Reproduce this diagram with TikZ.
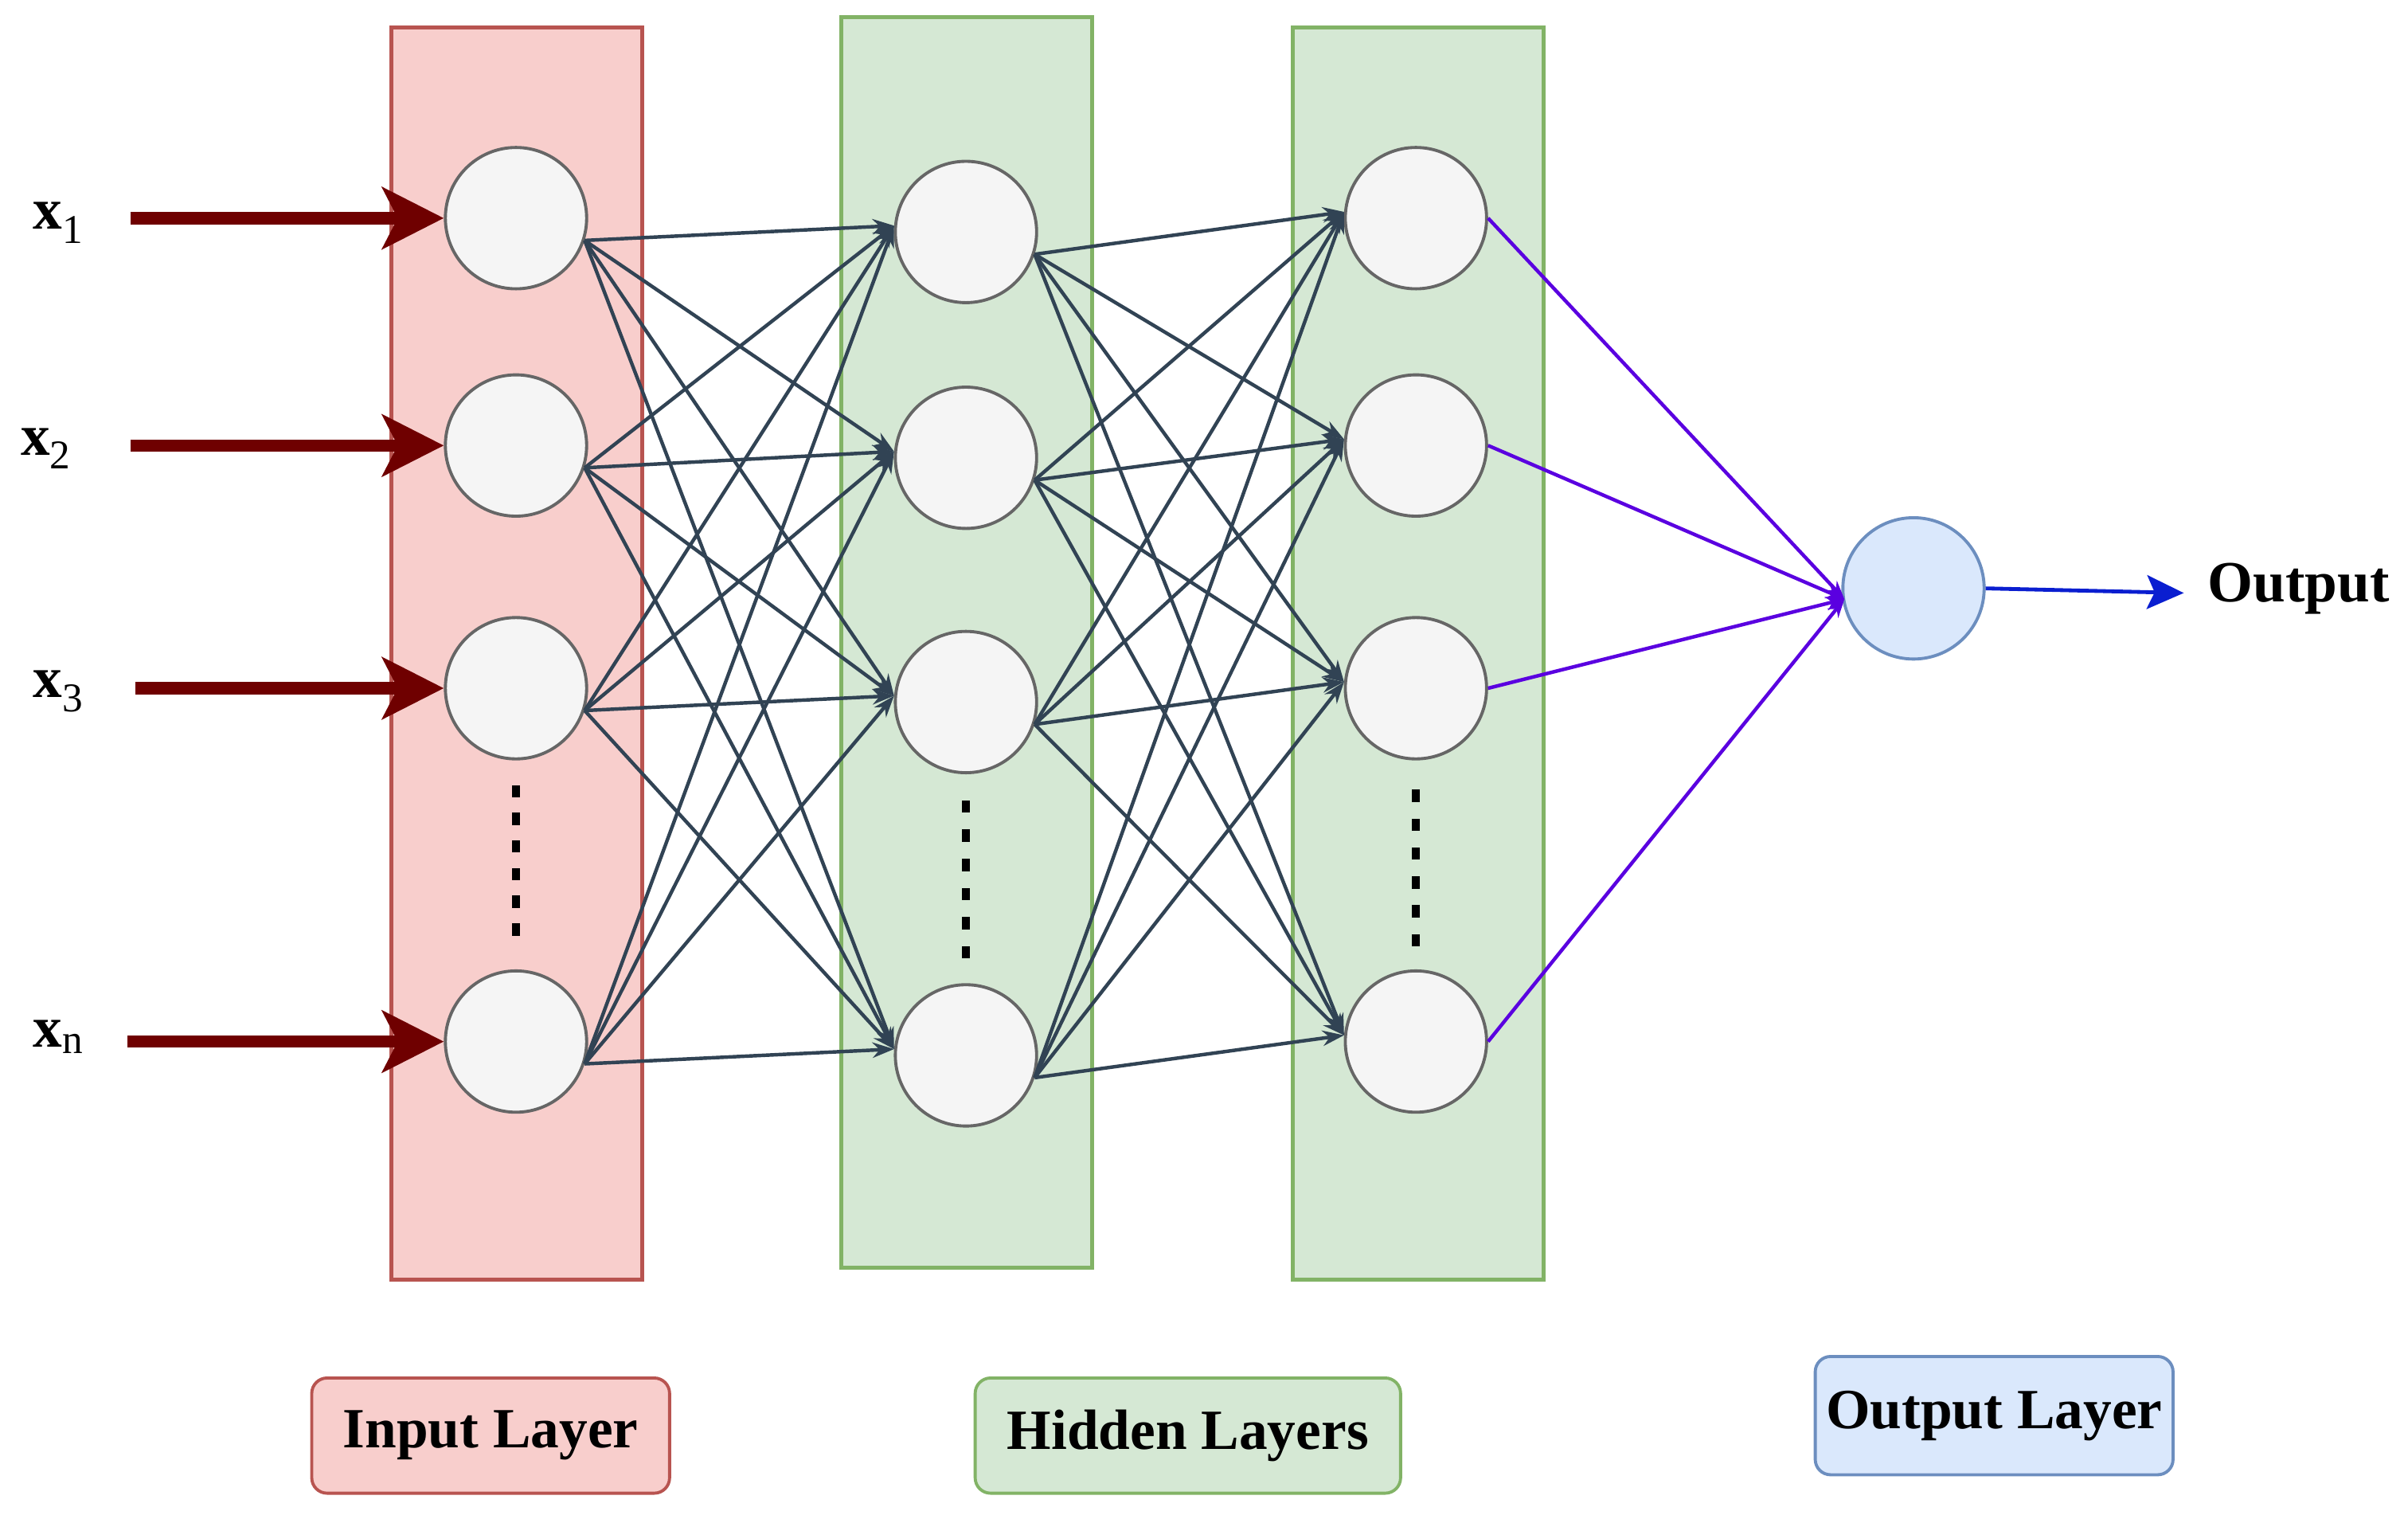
\documentclass[tikz,border=0pt]{standalone}
\usepackage{fontspec}
\setmainfont{Liberation Serif}
\usetikzlibrary{arrows.meta}
\definecolor{redf}{HTML}{F8CECC}\definecolor{reds}{HTML}{B85450}
\definecolor{grnf}{HTML}{D5E8D4}\definecolor{grns}{HTML}{82B366}
\definecolor{bluf}{HTML}{DAE8FC}\definecolor{blus}{HTML}{6C8EBF}
\definecolor{nodef}{HTML}{F5F5F5}\definecolor{nodes}{HTML}{666666}
\definecolor{edge}{HTML}{314354}\definecolor{inarr}{HTML}{6F0000}
\definecolor{outl}{HTML}{5A00E0}\definecolor{outa}{HTML}{0A1ED0}
\begin{document}
\begin{tikzpicture}[x=1pt,y=-1pt,
  neuron/.style={circle,draw=nodes,fill=nodef,line width=2pt,minimum size=92pt,inner sep=0pt},
  conn/.style={draw=edge,line width=2.3pt,-{Stealth[length=14pt,width=10pt]}},
  oconn/.style={draw=outl,line width=2.3pt,-{Stealth[length=12pt,width=9pt]}},
  inarrow/.style={draw=inarr,line width=8pt,-{Stealth[length=40pt,width=40pt,inset=10pt]}},
  lbl/.style={font=\fontsize{38}{42}\selectfont\bfseries},
  tag/.style={rounded corners=10pt,line width=2pt,font=\fontsize{37}{40}\selectfont\bfseries,inner sep=0pt}]
\useasboundingbox (0,0) rectangle (1568,991);
\fill[redf,draw=reds,line width=2.5pt] (255,18) rectangle (418,833);
\fill[grnf,draw=grns,line width=2.5pt] (548,11) rectangle (711,825);
\fill[grnf,draw=grns,line width=2.5pt] (842,18) rectangle (1005,833);
\foreach \n/\y in {1/142,2/290,3/448,4/678}{
  \node[neuron] (a\n) at (336,\y) {};
  \node[neuron] (c\n) at (922,\y) {};}
\foreach \n/\y in {1/151,2/298,3/457,4/687}{\node[neuron] (b\n) at (629,\y) {};}
\node[circle,draw=blus,fill=bluf,line width=2pt,minimum size=92pt,inner sep=0pt] (o) at (1246,383) {};
\foreach \x/\a/\b in {336/515/605,629/525/620,922/518/612}
  \foreach \k in {0,1,...,5}{\fill ({\x-2.5},{\a+\k*(\b-\a)/5-4}) rectangle ({\x+2.5},{\a+\k*(\b-\a)/5+4});}
\foreach \i in {1,...,4}\foreach \j in {1,...,4}{
  \draw[conn] (a\i.-18) -- (b\j.175);
  \draw[conn] (b\i.-18) -- (c\j.175);}
\coordinate (oin) at (1201,390);
\foreach \i in {1,...,4}{\draw[oconn] (c\i.east) -- (oin);}
\coordinate (oend) at (1422,386);
\draw[draw=outa,line width=2.5pt,-{Stealth[length=24pt,width=22pt,inset=5pt]}] (o.east) -- (oend);
\node[lbl,anchor=west] (ot) at (1434,383) {Output};
\node[lbl] (x1) at (38,145) {x\textsubscript{\mdseries 1}};
\node[lbl] (x2) at (30,292) {x\textsubscript{\mdseries 2}};
\node[lbl] (x3) at (38,450) {x\textsubscript{\mdseries 3}};
\node[lbl] (xn) at (38,675) {x\textsubscript{\mdseries n}};
\coordinate (s1) at (85,142);\coordinate (s2) at (85,290);\coordinate (s3) at (88,448);\coordinate (s4) at (83,678);
\foreach \i in {1,...,4}{\draw[inarrow] (s\i) -- (a\i.west);}
\node[tag,draw=reds,fill=redf,minimum width=233pt,minimum height=75pt] (t1) at (319.5,934.5) {Input Layer};
\node[tag,draw=grns,fill=grnf,minimum width=277pt,minimum height=75pt] (t2) at (773.5,934.5) {Hidden Layers};
\node[tag,draw=blus,fill=bluf,minimum width=233pt,minimum height=77pt] (t3) at (1298.5,921.5) {Output Layer};
\end{tikzpicture}
\end{document}
